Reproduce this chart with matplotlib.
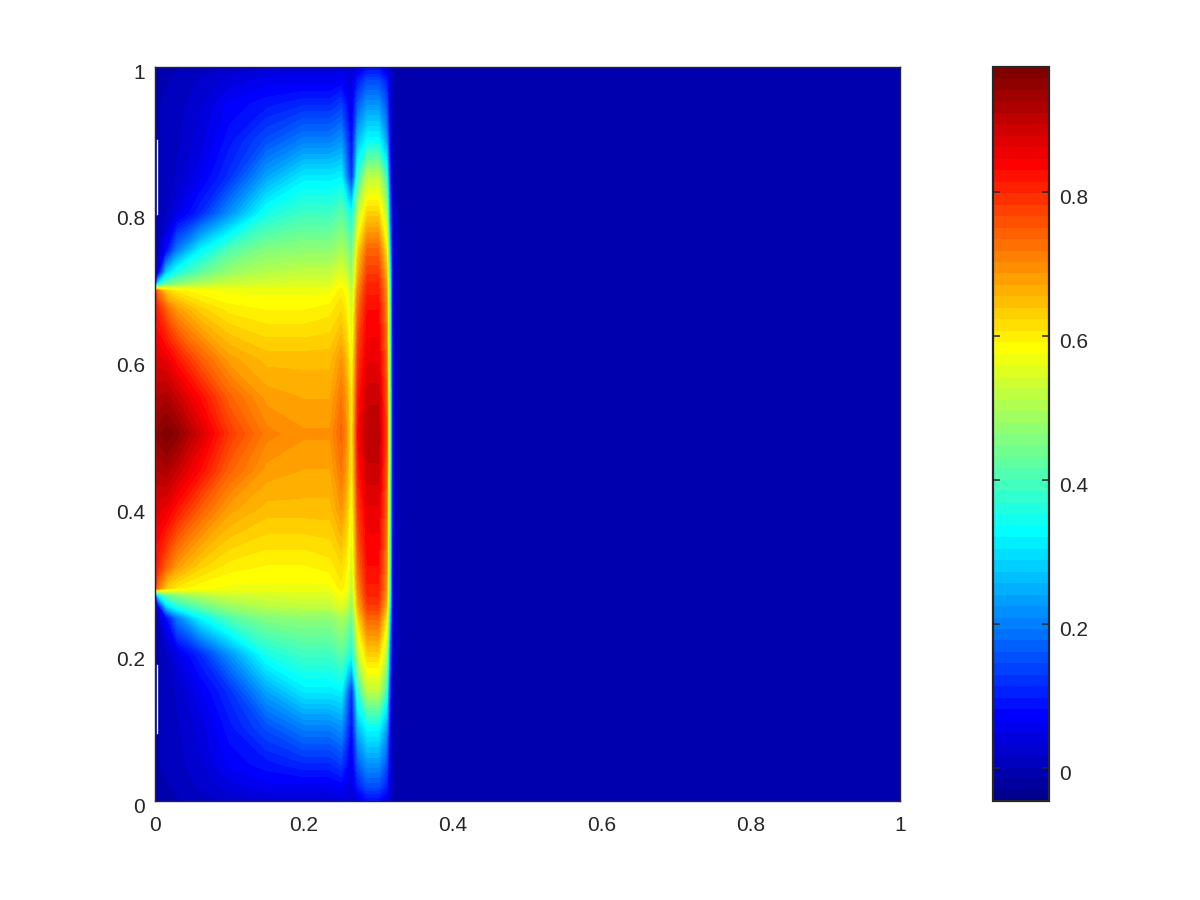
import numpy as np
import matplotlib
matplotlib.use("Agg")
import matplotlib.pyplot as plt
from matplotlib.colors import ListedColormap, BoundaryNorm
from matplotlib.cm import ScalarMappable
from matplotlib.transforms import ScaledTranslation

plt.rcParams['font.family'] = ['Liberation Sans', 'DejaVu Sans']
INK = '#262626'

x_grid = [0, .004, .015, .03, .06, .1, .15, .2, .235, .25, .258, .264, .272, .285, .3, .311, .315, .319, .33, 1]
y_upper = [1.0, .98, .95, .9, .85, .8, .75, .72, .705, .695, .67, .6, .55, .5]
y_lower = [0.0, .02, .05, .1, .15, .2, .25, .265, .28, .29, .32, .4, .45]

field_upper = [
    [0, 0, 0, 0, .01, .02, .03, .03, .03, .04, .03, .03, .05, .08, .08, .05, .02, 0, 0, 0],
    [0, 0, 0, .005, .02, .04, .06, .06, .06, .07, .05, .04, .10, .15, .15, .10, .03, 0, 0, 0],
    [0, 0, .005, .01, .03, .07, .09, .11, .11, .13, .08, .05, .16, .22, .22, .15, .04, 0, 0, 0],
    [0, 0, .005, .015, .04, .09, .15, .2, .2, .22, .14, .07, .26, .33, .33, .23, .07, 0, 0, 0],
    [0, 0, .01, .02, .06, .12, .24, .31, .31, .32, .2, .1, .38, .52, .52, .38, .12, 0, 0, 0],
    [0, 0, .015, .05, .11, .22, .35, .39, .39, .42, .38, .34, .52, .63, .63, .5, .2, .005, 0, 0],
    [.01, .015, .08, .2, .32, .41, .46, .47, .47, .5, .47, .42, .62, .74, .74, .6, .3, .01, 0, 0],
    [.02, .05, .28, .36, .42, .48, .51, .52, .52, .55, .52, .46, .66, .78, .78, .65, .35, .01, 0, 0],
    [.03, .3, .42, .46, .50, .53, .54, .55, .55, .58, .55, .48, .68, .80, .80, .67, .37, .01, 0, 0],
    [.78, .72, .63, .6, .58, .57, .57, .57, .57, .6, .57, .5, .7, .81, .81, .68, .38, .01, 0, 0],
    [.82, .8, .74, .68, .63, .6, .59, .59, .6, .62, .59, .52, .73, .83, .83, .7, .4, .01, 0, 0],
    [.85, .87, .86, .82, .75, .68, .65, .65, .65, .69, .64, .56, .78, .86, .86, .73, .42, .01, 0, 0],
    [.88, .91, .92, .89, .83, .74, .68, .67, .67, .72, .67, .58, .81, .89, .89, .75, .43, .01, 0, 0],
    [.9, .95, .97, .95, .88, .78, .71, .69, .69, .74, .68, .59, .83, .91, .91, .76, .44, .01, 0, 0],
]
white_x = [.003, .003]
white_upper = [.9, .8]
white_lower = [.185, .093]
ticks_main = [0, .2, .4, .6, .8, 1]
tick_labels_main = ['0', '0.2', '0.4', '0.6', '0.8', '1']
ticks_bar = [0, .2, .4, .6, .8]
tick_labels_bar = ['0', '0.2', '0.4', '0.6', '0.8']
value_min, value_max = -.046, .974

upper = np.array(field_upper)
z = np.vstack([upper, upper[-2::-1]])
y = np.array(y_upper + y_lower[::-1])
order = np.argsort(y)

# Octave's 64-entry jet colormap
ramp = np.r_[np.arange(1, 17) / 16, np.ones(15), np.arange(16, 0, -1) / 16]
jet64 = np.zeros((64, 3))
jet64[:, 0] = [ramp[i - 24] if i >= 24 else 0 for i in range(64)]
jet64[:, 1] = [ramp[i - 8] if 8 <= i < 55 else 0 for i in range(64)]
jet64[:, 2] = [ramp[i + 8] if i < 39 else 0 for i in range(64)]

cmap = ListedColormap(jet64)
levels = np.linspace(value_min, value_max, 65)
norm = BoundaryNorm(levels, 64)

fig = plt.figure(figsize=(12, 9), dpi=100)
ax = fig.add_axes([155 / 1200, 99 / 900, 745 / 1200, 734 / 900])
ax.contourf(x_grid, y[order], z[order], levels=levels, cmap=cmap, norm=norm, extend='both')
ax.plot(white_x, white_upper, color='white', lw=1)
ax.plot(white_x, white_lower, color='white', lw=1)
ax.set_xlim(0, 1)
ax.set_ylim(0, 1)
ax.set_xticks(ticks_main, tick_labels_main)
ax.set_yticks(ticks_main, tick_labels_main)
ax.tick_params(direction='in', length=0, labelsize=15, colors=INK)
ax.tick_params(axis='x', pad=11)
ax.tick_params(axis='y', pad=7)
for s in ax.spines.values():
    s.set_color(INK)
    s.set_linewidth(1)

cax = fig.add_axes([993 / 1200, 99 / 900, 56 / 1200, 734 / 900])
cb = fig.colorbar(ScalarMappable(norm=norm, cmap=cmap), cax=cax, spacing='proportional', drawedges=False)
cb.set_ticks(ticks_bar, labels=tick_labels_bar)
cb.minorticks_off()
cax.tick_params(direction='in', length=5, width=1.1, color=INK, labelcolor=INK, labelsize=15,
                left=True, right=True, labelleft=False, labelright=True, pad=7)
cb.outline.set_edgecolor(INK)
cb.outline.set_linewidth(1.6)

shift = ScaledTranslation(0, -3 / 72, fig.dpi_scale_trans)
for label in list(ax.get_yticklabels()) + list(cax.get_yticklabels()):
    label.set_transform(label.get_transform() + shift)

fig.savefig('out.png', dpi=100)
